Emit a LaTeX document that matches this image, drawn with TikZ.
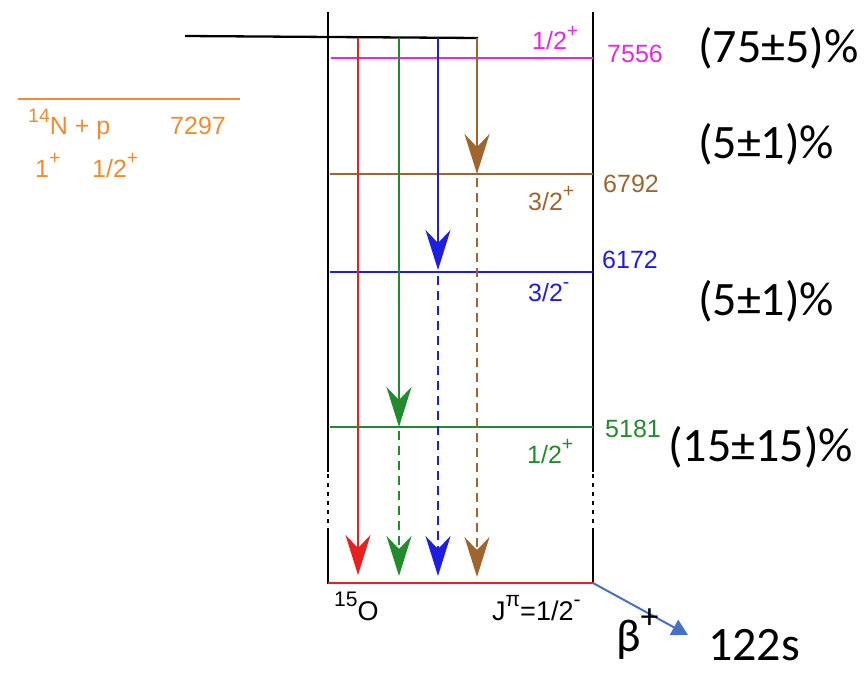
\documentclass[tikz,border=0pt]{standalone}
\usepackage{fontspec}
\setmainfont{Liberation Sans}
\newfontfamily\calib{Carlito}
\usetikzlibrary{arrows.meta}
\definecolor{cred}{RGB}{232,32,32}
\definecolor{cgreen}{RGB}{34,139,44}
\definecolor{cblue}{RGB}{30,30,225}
\definecolor{cbrown}{RGB}{160,100,45}
\definecolor{cmag}{RGB}{228,40,228}
\definecolor{corange}{RGB}{240,140,45}
\definecolor{cbeta}{RGB}{68,114,196}
\newcommand\mysup[1]{\raisebox{0.5em}{\scalebox{0.78}{#1}}}
\begin{document}
\begin{tikzpicture}[x=1pt,y=-1pt,
  lvl/.style={line width=2.3pt},
  wall/.style={line width=2.3pt,black},
  dots/.style={line width=2.3pt,black,dash pattern=on 4pt off 5pt},
  gam/.style={line width=2.3pt,-{Stealth[length=40pt,width=25pt,inset=13pt]}},
  gamd/.style={gam,dash pattern=on 9pt off 6pt},
  lab/.style={inner sep=0pt,anchor=base west,font=\fontsize{25}{30}\selectfont},
  big/.style={inner sep=0pt,anchor=base west,font=\calib\fontsize{48}{56}\selectfont}]
\useasboundingbox (0,0) rectangle (864,674);

% walls
\draw[wall] (328,12) -- (328,472);
\draw[dots] (328,474) -- (328,532);
\draw[wall] (328,532) -- (328,584);
\draw[wall] (593,12) -- (593,472);
\draw[dots] (593,474) -- (593,532);
\draw[wall] (593,532) -- (593,584);

% entry line
\draw[line width=2.3pt,black] (185,36) -- (478,38);

% levels
\draw[lvl,cmag] (331,58) -- (593,58);
\draw[lvl,cbrown] (330,174) -- (593,174);
\draw[lvl,cblue] (330,272) -- (593,272);
\draw[lvl,cgreen] (330,427) -- (593,427);
\draw[lvl,cred] (328,583) -- (593,583);
\draw[lvl,corange] (18,99) -- (240,99);

% gamma arrows
\draw[gam,cred] (358,38) -- (358,575);
\draw[gam,cgreen] (399,38) -- (399,427);
\draw[gamd,cgreen] (399,431) -- (399,576);
\draw[gam,cblue] (438,38) -- (438,270);
\draw[gamd,cblue] (438,276) -- (438,576);
\draw[gam,cbrown] (477,38) -- (477,174);
\draw[gamd,cbrown] (477,178) -- (477,577);

% level labels
\node[lab,cmag] (jm) at (532,50) {1/2\mysup{+}};
\node[lab,cmag] (em) at (607,63) {7556};
\node[lab,cbrown] (jb) at (528,210) {3/2\mysup{+}};
\node[lab,cbrown] (eb) at (603,192) {6792};
\node[lab,cblue] (jbl) at (528,301) {3/2\mysup{-}};
\node[lab,cblue] (ebl) at (602,268) {6172};
\node[lab,cgreen] (jg) at (527,463) {1/2\mysup{+}};
\node[lab,cgreen] (eg) at (605,437) {5181};
\node[lab,corange] (np) at (28,135) {\mysup{14}N + p};
\node[lab,corange] (en) at (170,135) {7297};
\node[lab,corange] (j1) at (35,177) {1\mysup{+}};
\node[lab,corange] (j2) at (92,177) {1/2\mysup{+}};
\node[lab,black,font=\fontsize{27}{30}\selectfont] (o15) at (334,620) {\mysup{15}O};
\node[lab,black,font=\fontsize{27}{30}\selectfont] (jpi) at (492,620) {J\mysup{π}=1/2\mysup{-}};

% branching ratios
\node[big] (b1) at (698,63) {(75±5)\%};
\node[big] (b2) at (698,158) {(5±1)\%};
\node[big] (b3) at (698,315) {(5±1)\%};
\node[big] (b4) at (668,461) {(15±15)\%};

% beta decay
\coordinate (bs) at (593,583);
\coordinate (be) at (688,635);
\draw[line width=2pt,cbeta,-{Triangle[length=16pt,width=17pt]}] (bs) -- (be);
\node[big,font=\calib\fontsize{46}{54}\selectfont] (beta) at (616,651) {β\mysup{+}};
\node[big] (t) at (708,660) {122s};
\end{tikzpicture}
\end{document}
